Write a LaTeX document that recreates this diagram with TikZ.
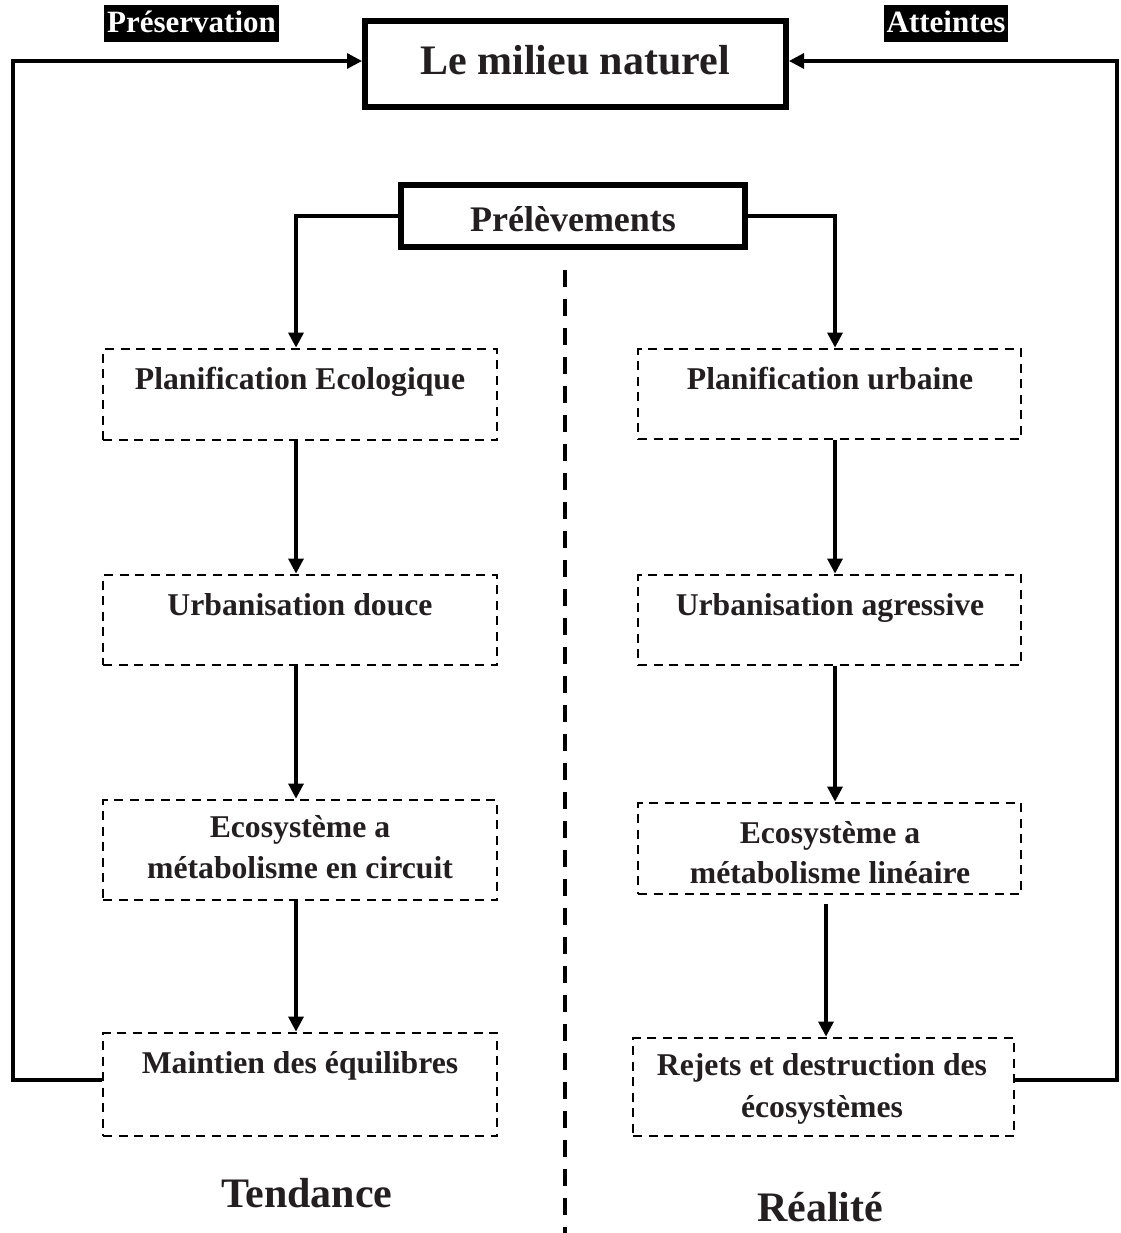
\documentclass[tikz,border=0pt]{standalone}
\usepackage{fontspec}
\setmainfont{Liberation Serif}
\usetikzlibrary{arrows.meta}
\definecolor{ink}{HTML}{231F20}
\begin{document}
\begin{tikzpicture}[x=1pt,y=-1pt,
  thickbox/.style={draw=black, line width=6pt, inner sep=0pt},
  dbox/.style={draw=black, line width=2.8pt, dash pattern=on 9pt off 6.5pt, inner sep=0pt, minimum width=#1},
  txt/.style={text=ink, anchor=base, inner sep=0pt, font=\bfseries\fontsize{31.7}{38}\selectfont},
  bigtxt/.style={txt, font=\bfseries\fontsize{42}{50}\selectfont},
  tag/.style={fill=black, text=white, inner xsep=3pt, inner ysep=4pt, text height=24pt, text depth=5pt,
              font=\bfseries\fontsize{31}{37}\selectfont},
  conn/.style={line width=3.2pt, -{Triangle[length=15pt,width=15pt]}},
]
\useasboundingbox (0,0) rectangle (1120,1233);

% top: the natural environment and the two return labels
\node[thickbox, minimum width=421pt, minimum height=86pt] (top) at (575.5,64) {};
\node[bigtxt] (toptxt) at (575,75) {Le milieu naturel};
\node[tag] (pres) at (191.5,23.5) {Préservation};
\node[tag] (att) at (946,23.5) {Atteintes};

% withdrawals box
\node[thickbox, minimum width=344pt, minimum height=62pt] (prel) at (573,216) {};
\node[txt, font=\bfseries\fontsize{36}{43}\selectfont] (preltxt) at (573,232) {Prélèvements};

% central dashed divider
\coordinate (divtop) at (565,270);
\coordinate (divbot) at (565,1233);
\draw[line width=3.5pt, dash pattern=on 17pt off 12pt] (divtop) -- (divbot);

% left column: tendency
\node[dbox=394pt, minimum height=91pt] (L1) at (300,394.5) {};
\node[txt] (L1t) at (300,389) {Planification Ecologique};
\node[dbox=394pt, minimum height=90pt] (L2) at (300,620) {};
\node[txt] (L2t) at (300,615) {Urbanisation douce};
\node[dbox=394pt, minimum height=100pt] (L3) at (300,850) {};
\node[txt] (L3a) at (300,837) {Ecosystème a};
\node[txt] (L3b) at (300,878) {métabolisme en circuit};
\node[dbox=394pt, minimum height=103pt] (L4) at (300,1084.5) {};
\node[txt] (L4t) at (300,1073) {Maintien des équilibres};
\node[bigtxt] (tend) at (307,1207) {Tendance};

% right column: reality
\node[dbox=383pt, minimum height=90pt] (R1) at (829.5,394) {};
\node[txt] (R1t) at (830,389) {Planification urbaine};
\node[dbox=383pt, minimum height=90pt] (R2) at (829.5,620) {};
\node[txt] (R2t) at (830,615) {Urbanisation agressive};
\node[dbox=383pt, minimum height=91pt] (R3) at (829.5,848.5) {};
\node[txt] (R3a) at (830,843) {Ecosystème a};
\node[txt] (R3b) at (830,883) {métabolisme linéaire};
\node[dbox=381pt, minimum height=98pt] (R4) at (823.5,1087) {};
\node[txt] (R4a) at (822,1075) {Rejets et destruction des};
\node[txt] (R4b) at (822,1117) {écosystèmes};
\node[bigtxt] (real) at (820,1221) {Réalité};

% column axes
\coordinate (cl) at (296,0);
\coordinate (cr) at (835,0);
\coordinate (cr2) at (826,0);

% withdrawals split into both columns
\draw[conn] (prel.west) -| (L1.north -| cl);
\draw[conn] (prel.east) -| (R1.north -| cr);

% chains
\draw[conn] (L1.south -| cl) -- (L2.north -| cl);
\draw[conn] (L2.south -| cl) -- (L3.north -| cl);
\draw[conn] (L3.south -| cl) -- (L4.north -| cl);
\draw[conn] (R1.south -| cr) -- (R2.north -| cr);
\draw[conn] (R2.south -| cr) -- (R3.north -| cr);
\draw[conn, shorten <=9pt] (R3.south -| cr2) -- (R4.north -| cr2);

% feedback loops to the natural environment
\coordinate (lbot) at (13,1080);
\coordinate (ltop) at (13,61);
\coordinate (rbot) at (1117,1080);
\coordinate (rtop) at (1117,61);
\draw[conn] (lbot -| L4.west) -- (lbot) -- (ltop) -- (ltop -| top.west);
\draw[conn] (rbot -| R4.east) -- (rbot) -- (rtop) -- (rtop -| top.east);
\end{tikzpicture}
\end{document}
